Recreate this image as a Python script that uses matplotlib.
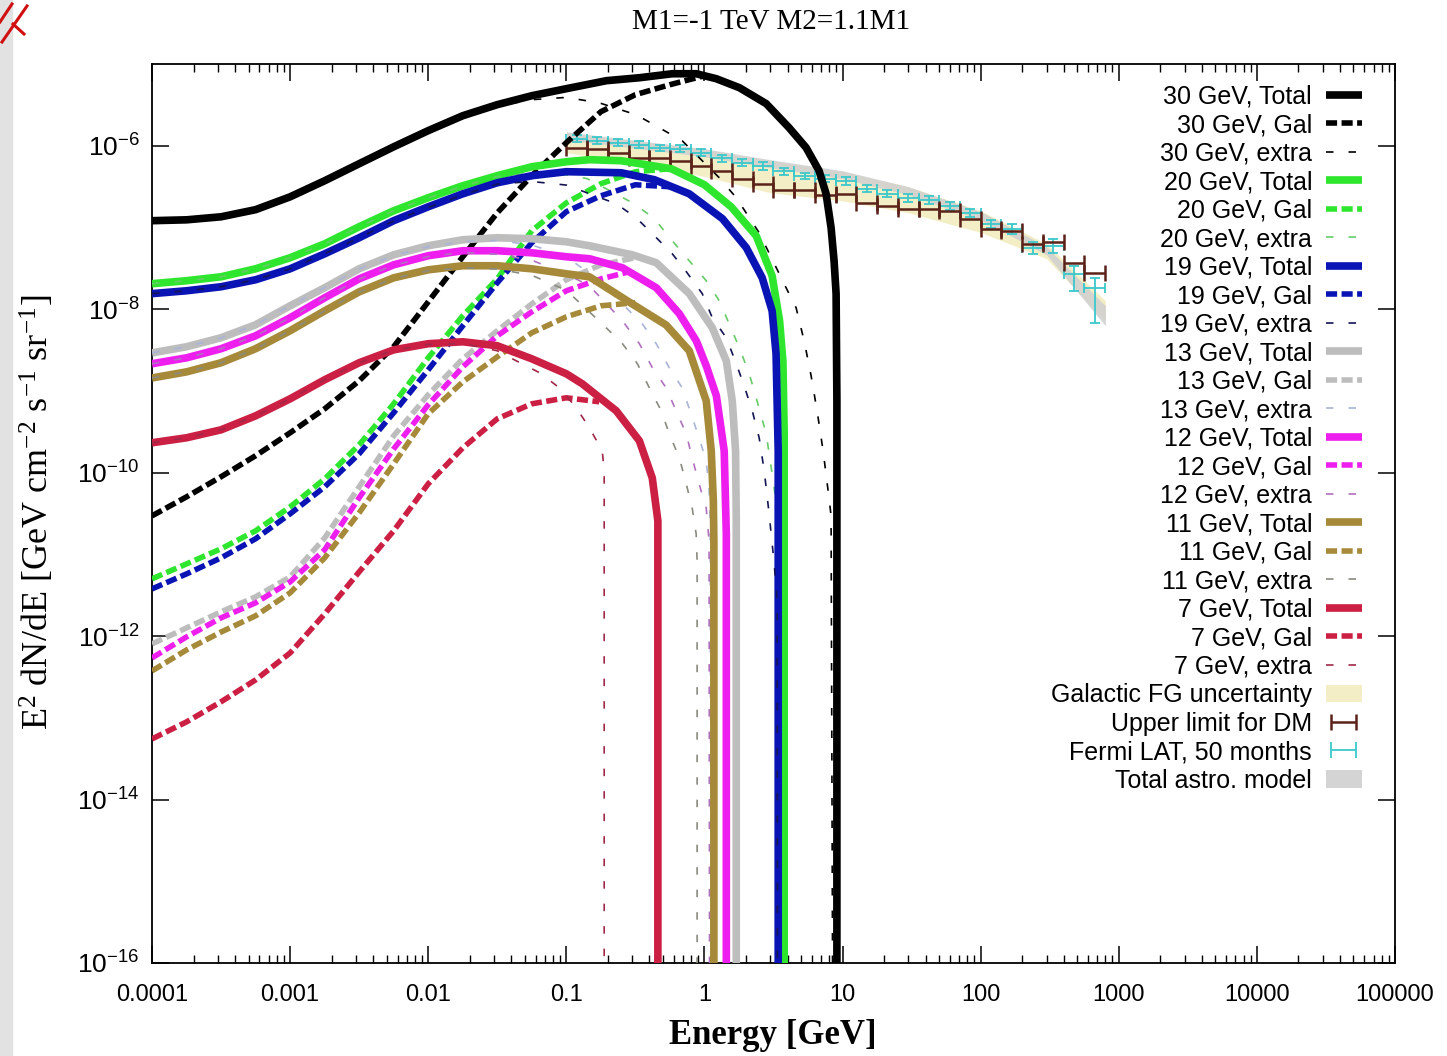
import matplotlib
matplotlib.use('Agg')
import matplotlib.pyplot as plt
from matplotlib.patches import Patch, Rectangle
from matplotlib.lines import Line2D
from matplotlib.ticker import FixedLocator, FixedFormatter, LogLocator, NullFormatter, NullLocator
import numpy as np

plt.rcParams['font.family'] = ['Liberation Sans', 'DejaVu Sans']
plt.rcParams['mathtext.fontset'] = 'custom'
plt.rcParams['mathtext.rm'] = 'Liberation Serif'
plt.rcParams['mathtext.sf'] = 'Liberation Sans'
plt.rcParams['mathtext.it'] = 'Liberation Serif:italic'

BOT = 1e-17  # vertical drop below the axis floor

# ---------------- model curves: (energy [GeV], E^2 dN/dE) ----------------
# 30 GeV
e30_tot = [1e-4, 1.78e-4, 3.16e-4, 5.62e-4, 1e-3, 1.78e-3, 3.16e-3, 5.62e-3, 0.01, 0.0178, 0.0316, 0.0562, 0.1,
           0.195, 0.338, 0.585, 0.873, 1.22, 1.79, 2.80, 4.10, 5.44, 6.76, 7.60, 8.26, 8.68, 8.98, 9.1, 9.1]
f30_tot = [1.21e-7, 1.24e-7, 1.35e-7, 1.65e-7, 2.37e-7, 3.73e-7, 6.02e-7, 9.7e-7, 1.53e-6, 2.33e-6, 3.18e-6, 4.09e-6, 4.99e-6,
           6.25e-6, 6.79e-6, 7.6e-6, 7.6e-6, 6.6e-6, 5.13e-6, 3.27e-6, 1.66e-6, 9.5e-7, 4.94e-7, 2.58e-7, 9.9e-8, 3.91e-8, 1.55e-8, 7.6e-10, BOT]
e30_gal = [1e-4, 1.78e-4, 3.16e-4, 5.62e-4, 1e-3, 1.78e-3, 3.16e-3, 5.62e-3, 0.01, 0.0178, 0.0316, 0.0562, 0.1,
           0.178, 0.316, 0.562, 1.0]
f30_gal = [2.96e-11, 5.06e-11, 8.9e-11, 1.61e-10, 3.07e-10, 6.04e-10, 1.33e-9, 3.47e-9, 1.23e-8, 4.38e-8, 1.51e-7, 4.3e-7, 1.09e-6,
           2.61e-6, 4.21e-6, 5.58e-6, 7.19e-6]
e30_ext = [1e-4, 1.78e-4, 3.16e-4, 5.62e-4, 1e-3, 1.78e-3, 3.16e-3, 5.62e-3, 0.01, 0.0178, 0.0316, 0.0562, 0.1,
           0.173, 0.321, 0.471, 0.690, 0.964, 1.28, 1.70, 2.49, 3.90, 4.61, 5.27, 5.92, 6.54, 7.23, 7.86, 8.26, 8.5]
f30_ext = [1.21e-7, 1.24e-7, 1.35e-7, 1.65e-7, 2.37e-7, 3.73e-7, 6.02e-7, 9.7e-7, 1.52e-6, 2.3e-6, 3.05e-6, 3.66e-6, 3.9e-6,
           3.35e-6, 2.39e-6, 1.66e-6, 1.15e-6, 6.55e-7, 4.06e-7, 2.31e-7, 8.6e-8, 1.83e-8, 1.04e-8, 4.1e-9, 1.53e-9, 5.7e-10, 1.85e-10, 6.0e-11, 2.96e-11, BOT]

# 20 GeV
e20_tot = [1e-4, 1.78e-4, 3.16e-4, 5.62e-4, 1e-3, 1.78e-3, 3.16e-3, 5.62e-3, 0.01, 0.0178, 0.0316, 0.0562, 0.1,
           0.147, 0.250, 0.575, 1.0, 1.56, 2.37, 3.09, 3.5, 3.7, 3.78, 3.78]
f20_tot = [2.05e-8, 2.23e-8, 2.49e-8, 3.12e-8, 4.26e-8, 6.31e-8, 1.02e-7, 1.6e-7, 2.31e-7, 3.24e-7, 4.3e-7, 5.53e-7, 6.37e-7,
           6.75e-7, 6.55e-7, 5.23e-7, 3.33e-7, 1.79e-7, 7.9e-8, 2.56e-8, 7.2e-9, 2.3e-9, 3e-10, BOT]
e20_gal = [1e-4, 1.78e-4, 3.16e-4, 5.62e-4, 1e-3, 1.78e-3, 3.16e-3, 5.62e-3, 0.01, 0.0178, 0.0316, 0.0562, 0.1,
           0.178, 0.316, 0.562]
f20_gal = [5.02e-12, 7.65e-12, 1.17e-11, 1.94e-11, 3.81e-11, 8.4e-11, 2.19e-10, 6.95e-10, 2.54e-9, 8.3e-9, 2.35e-8, 9.12e-8, 2.0e-7,
           3.43e-7, 4.81e-7, 5.23e-7]
e20_ext = [1e-4, 1.78e-4, 3.16e-4, 5.62e-4, 1e-3, 1.78e-3, 3.16e-3, 5.62e-3, 0.01, 0.0178, 0.0316, 0.0562, 0.1,
           0.142, 0.310, 0.434, 0.585, 0.776, 1.03, 1.28, 1.51, 1.79, 2.11, 2.37, 2.80, 3.09, 3.30, 3.42, 3.45]
f20_ext = [2.05e-8, 2.23e-8, 2.49e-8, 3.12e-8, 4.26e-8, 6.31e-8, 1.02e-7, 1.6e-7, 2.3e-7, 3.2e-7, 4.2e-7, 4.6e-7, 4.4e-7,
           3.95e-7, 1.95e-7, 1.28e-7, 6.87e-8, 3.91e-8, 2.23e-8, 1.27e-8, 6.63e-9, 3.37e-9, 1.62e-9, 8.2e-10, 2.99e-10, 9.7e-11, 4.5e-11, 8.3e-12, BOT]

# 19 GeV
e19_tot = [1e-4, 1.78e-4, 3.16e-4, 5.62e-4, 1e-3, 1.78e-3, 3.16e-3, 5.62e-3, 0.01, 0.0178, 0.0316, 0.0562, 0.1,
           0.250, 0.434, 0.776, 1.35, 2.01, 2.62, 3.09, 3.30, 3.42, 3.42]
f19_tot = [1.55e-8, 1.68e-8, 1.88e-8, 2.29e-8, 3.12e-8, 4.76e-8, 7.48e-8, 1.21e-7, 1.79e-7, 2.58e-7, 3.52e-7, 4.3e-7, 4.81e-7,
           4.67e-7, 3.84e-7, 2.58e-7, 1.28e-7, 5.65e-8, 2.42e-8, 9.55e-9, 2.85e-9, 1.85e-10, BOT]
e19_gal = [1e-4, 1.78e-4, 3.16e-4, 5.62e-4, 1e-3, 1.78e-3, 3.16e-3, 5.62e-3, 0.01, 0.0178, 0.0316, 0.0562, 0.1,
           0.178, 0.316, 0.562]
f19_gal = [3.78e-12, 5.77e-12, 9.06e-12, 1.55e-11, 3.13e-11, 6.7e-11, 1.7e-10, 5.4e-10, 1.81e-9, 6.27e-9, 2.1e-8, 6.5e-8, 1.56e-7,
           2.44e-7, 3.33e-7, 3.15e-7]
e19_ext = [1e-4, 1.78e-4, 3.16e-4, 5.62e-4, 1e-3, 1.78e-3, 3.16e-3, 5.62e-3, 0.01, 0.0178, 0.0316, 0.0562, 0.1,
           0.230, 0.321, 0.420, 0.585, 0.731, 0.964, 1.14, 1.44, 1.70, 1.94, 2.22, 2.49, 2.71, 2.94, 3.20, 3.36, 3.38]
f19_ext = [1.55e-8, 1.68e-8, 1.88e-8, 2.29e-8, 3.12e-8, 4.76e-8, 7.48e-8, 1.2e-7, 1.76e-7, 2.5e-7, 3.4e-7, 3.65e-7, 3.3e-7,
           1.95e-7, 1.31e-7, 8.37e-8, 4.76e-8, 2.95e-8, 1.55e-8, 7.85e-9, 4.47e-9, 2.15e-9, 1.15e-9, 5.7e-10, 2.67e-10, 1.05e-10, 3.13e-11, 7.65e-12, 2.7e-12, BOT]

# 13 GeV
e13_tot = [1e-4, 1.78e-4, 3.16e-4, 5.62e-4, 1e-3, 1.78e-3, 3.16e-3, 5.62e-3, 0.01, 0.0178, 0.0316, 0.0562, 0.1,
           0.147, 0.30, 0.448, 0.776, 1.14, 1.44, 1.59, 1.68, 1.70, 1.70]
f13_tot = [2.92e-9, 3.47e-9, 4.47e-9, 6.44e-9, 1.1e-8, 1.83e-8, 3.12e-8, 4.63e-8, 5.97e-8, 7.07e-8, 7.48e-8, 7.28e-8, 6.68e-8,
           5.97e-8, 4.63e-8, 3.70e-8, 1.55e-8, 5.92e-9, 2.33e-9, 7.56e-10, 1.85e-10, 2.6e-11, BOT]
e13_gal = [1e-4, 1.78e-4, 3.16e-4, 5.62e-4, 1e-3, 1.78e-3, 3.16e-3, 5.62e-3, 0.01, 0.0178, 0.0316, 0.0562, 0.1,
           0.178, 0.316]
f13_gal = [8.03e-13, 1.26e-12, 1.98e-12, 3.02e-12, 5.3e-12, 1.59e-11, 6.7e-11, 2.82e-10, 8.96e-10, 2.47e-9, 5.45e-9, 1.16e-8, 2.29e-8,
           3.49e-8, 4.26e-8]
e13_ext = [1e-4, 1.78e-4, 3.16e-4, 5.62e-4, 1e-3, 1.78e-3, 3.16e-3, 5.62e-3, 0.01, 0.0178, 0.0316, 0.0562, 0.1,
           0.173, 0.355, 0.448, 0.556, 0.690, 0.80, 0.914, 1.03, 1.08, 1.10, 1.12]
f13_ext = [2.92e-9, 3.47e-9, 4.47e-9, 6.44e-9, 1.1e-8, 1.83e-8, 3.1e-8, 4.55e-8, 5.8e-8, 6.7e-8, 6.95e-8, 6.1e-8, 4.4e-8,
           2.23e-8, 6.6e-9, 3.78e-9, 1.92e-9, 1.09e-9, 5.25e-10, 2.67e-10, 1.39e-10, 6.5e-11, 2.57e-11, BOT]

# 12 GeV
e12_tot = [1e-4, 1.78e-4, 3.16e-4, 5.62e-4, 1e-3, 1.78e-3, 3.16e-3, 5.62e-3, 0.01, 0.0178, 0.0316, 0.0562, 0.1,
           0.147, 0.255, 0.448, 0.658, 0.873, 1.03, 1.22, 1.39, 1.44, 1.44]
f12_tot = [2.15e-9, 2.54e-9, 3.28e-9, 4.72e-9, 7.85e-9, 1.38e-8, 2.35e-8, 3.49e-8, 4.51e-8, 5.19e-8, 5.19e-8, 4.9e-8, 4.38e-8,
           4.14e-8, 3.21e-8, 1.83e-8, 8.79e-9, 4.1e-9, 2.03e-9, 8.71e-10, 1.85e-10, 1.78e-11, BOT]
e12_gal = [1e-4, 1.78e-4, 3.16e-4, 5.62e-4, 1e-3, 1.78e-3, 3.16e-3, 5.62e-3, 0.01, 0.0178, 0.0316, 0.0562, 0.1,
           0.178, 0.286]
f12_gal = [5.41e-13, 9.78e-13, 1.67e-12, 2.55e-12, 4.6e-12, 1.14e-11, 4.92e-11, 1.95e-10, 6.76e-10, 1.97e-9, 4.72e-9, 9.29e-9, 1.68e-8,
           2.35e-8, 2.87e-8]
e12_ext = [1e-4, 1.78e-4, 3.16e-4, 5.62e-4, 1e-3, 1.78e-3, 3.16e-3, 5.62e-3, 0.01, 0.0178, 0.0316, 0.0562, 0.1,
           0.147, 0.255, 0.338, 0.420, 0.528, 0.624, 0.738, 0.815, 0.914, 1.03, 1.08, 1.09]
f12_ext = [2.15e-9, 2.54e-9, 3.28e-9, 4.72e-9, 7.85e-9, 1.38e-8, 2.33e-8, 3.44e-8, 4.4e-8, 4.95e-8, 4.7e-8, 3.97e-8, 2.7e-8,
           1.93e-8, 7.2e-9, 3.78e-9, 1.92e-9, 1.09e-9, 5.7e-10, 2.99e-10, 1.52e-10, 7.3e-11, 3.71e-11, 1.46e-11, BOT]

# 11 GeV
e11_tot = [1e-4, 1.78e-4, 3.16e-4, 5.62e-4, 1e-3, 1.78e-3, 3.16e-3, 5.62e-3, 0.01, 0.0178, 0.0316, 0.0562, 0.1,
           0.147, 0.30, 0.528, 0.776, 1.03, 1.12, 1.16, 1.17, 1.17]
f11_tot = [1.44e-9, 1.71e-9, 2.21e-9, 3.28e-9, 5.45e-9, 9.55e-9, 1.63e-8, 2.42e-8, 3.03e-8, 3.4e-8, 3.4e-8, 3.12e-8, 2.71e-8,
           2.49e-8, 1.16e-8, 6.4e-9, 3.1e-9, 7.56e-10, 1.85e-10, 4.5e-11, 1.46e-11, BOT]
e11_gal = [1e-4, 1.78e-4, 3.16e-4, 5.62e-4, 1e-3, 1.78e-3, 3.16e-3, 5.62e-3, 0.01, 0.0178, 0.0316, 0.0562, 0.1,
           0.178, 0.316]
f11_gal = [3.75e-13, 6.78e-13, 1.12e-12, 1.77e-12, 3.38e-12, 9.06e-12, 3.22e-11, 1.28e-10, 5.25e-10, 1.29e-9, 2.61e-9, 5.14e-9, 8.07e-9,
           1.1e-8, 1.2e-8]
e11_ext = [1e-4, 1.78e-4, 3.16e-4, 5.62e-4, 1e-3, 1.78e-3, 3.16e-3, 5.62e-3, 0.01, 0.0178, 0.0316, 0.0562, 0.1,
           0.182, 0.255, 0.327, 0.399, 0.487, 0.556, 0.658, 0.738, 0.815, 0.871, 0.885, 0.885]
f11_ext = [1.44e-9, 1.71e-9, 2.21e-9, 3.28e-9, 5.45e-9, 9.55e-9, 1.62e-8, 2.38e-8, 2.95e-8, 3.2e-8, 3.1e-8, 2.6e-8, 1.7e-8,
           6.6e-9, 3.78e-9, 2.15e-9, 1.09e-9, 5.7e-10, 2.99e-10, 1.52e-10, 7.3e-11, 3.71e-11, 1.78e-11, 8.3e-12, BOT]

# 7 GeV
e7_tot = [1e-4, 1.78e-4, 3.16e-4, 5.62e-4, 1e-3, 1.78e-3, 3.16e-3, 5.62e-3, 0.01, 0.0178, 0.0316, 0.0562, 0.1,
          0.1306, 0.230, 0.338, 0.419, 0.46, 0.46]
f7_tot = [2.32e-10, 2.67e-10, 3.34e-10, 4.95e-10, 8.0e-10, 1.37e-9, 2.21e-9, 3.18e-9, 3.78e-9, 3.99e-9, 3.57e-9, 2.47e-9, 1.62e-9,
          1.22e-9, 5.7e-10, 2.45e-10, 8.6e-11, 2.57e-11, BOT]
e7_gal = [1e-4, 1.78e-4, 3.16e-4, 5.62e-4, 1e-3, 1.78e-3, 3.16e-3, 5.62e-3, 0.01, 0.0178, 0.0316, 0.0562, 0.1, 0.173]
f7_gal = [5.52e-14, 8.92e-14, 1.57e-13, 2.91e-13, 6.22e-13, 1.87e-12, 6.1e-12, 1.94e-11, 7.3e-11, 2.01e-10, 4.56e-10, 6.95e-10, 8.24e-10, 7.36e-10]
e7_ext = [1e-4, 1.78e-4, 3.16e-4, 5.62e-4, 1e-3, 1.78e-3, 3.16e-3, 5.62e-3, 0.01, 0.0178, 0.0316, 0.0435, 0.064,
          0.0891, 0.118, 0.147, 0.182, 0.188, 0.188]
f7_ext = [2.32e-10, 2.67e-10, 3.34e-10, 4.95e-10, 8.0e-10, 1.37e-9, 2.21e-9, 3.15e-9, 3.7e-9, 3.8e-9, 3.1e-9, 2.33e-9, 1.67e-9,
          1.09e-9, 6.21e-10, 3.53e-10, 1.85e-10, 1.05e-10, BOT]

masses = ['30', '20', '19', '13', '12', '11', '7']
tot_colors = ['#000000', '#2ee62e', '#0a14b4', '#bdbdbd', '#ee1fee', '#a68a3a', '#cc1f44']
ext_colors = ['#000000', '#66cc66', '#141455', '#aab4d8', '#b070c0', '#8a8a80', '#a02848']
curves = {
    '30': (e30_tot, f30_tot, e30_gal, f30_gal, e30_ext, f30_ext),
    '20': (e20_tot, f20_tot, e20_gal, f20_gal, e20_ext, f20_ext),
    '19': (e19_tot, f19_tot, e19_gal, f19_gal, e19_ext, f19_ext),
    '13': (e13_tot, f13_tot, e13_gal, f13_gal, e13_ext, f13_ext),
    '12': (e12_tot, f12_tot, e12_gal, f12_gal, e12_ext, f12_ext),
    '11': (e11_tot, f11_tot, e11_gal, f11_gal, e11_ext, f11_ext),
    '7': (e7_tot, f7_tot, e7_gal, f7_gal, e7_ext, f7_ext),
}

# ---------------- Fermi-LAT data, upper limits, bands ----------------
bin_edges = [0.1, 0.141, 0.2, 0.282, 0.398, 0.562, 0.794, 1.12, 1.58, 2.24, 3.16, 4.47, 6.31, 8.91,
             12.6, 17.8, 25.1, 35.5, 50.1, 70.8, 100, 141, 200, 282, 398, 562, 794]
fermi = [1.22e-6, 1.15e-6, 1.09e-6, 1.03e-6, 9.4e-7, 9.2e-7, 8.2e-7, 7.1e-7, 6.2e-7, 5.7e-7, 4.9e-7, 4.3e-7, 3.95e-7,
         3.7e-7, 2.98e-7, 2.6e-7, 2.3e-7, 2.18e-7, 1.85e-7, 1.51e-7, 1.11e-7, 9.6e-8, 5.6e-8, 6.0e-8, 2.7e-8, 1.83e-8]
fermi_hi = [1.34e-6, 1.27e-6, 1.2e-6, 1.13e-6, 1.03e-6, 1.01e-6, 9.0e-7, 7.8e-7, 6.8e-7, 6.3e-7, 5.4e-7, 4.7e-7, 4.35e-7,
            4.1e-7, 3.3e-7, 2.9e-7, 2.55e-7, 2.42e-7, 2.05e-7, 1.7e-7, 1.25e-7, 1.1e-7, 6.6e-8, 7.2e-8, 3.4e-8, 2.42e-8]
fermi_lo = [1.1e-6, 1.04e-6, 0.98e-6, 0.93e-6, 8.5e-7, 8.3e-7, 7.4e-7, 6.4e-7, 5.6e-7, 5.1e-7, 4.4e-7, 3.9e-7, 3.55e-7,
            3.3e-7, 2.68e-7, 2.33e-7, 2.06e-7, 1.94e-7, 1.65e-7, 1.34e-7, 9.8e-8, 8.4e-8, 4.7e-8, 4.9e-8, 1.68e-8, 6.8e-9]
upper_limit = [9.4e-7, 9.2e-7, 8.2e-7, 7.1e-7, 7.1e-7, 6.5e-7, 5.7e-7, 4.9e-7, 3.95e-7, 3.4e-7, 2.9e-7, 2.9e-7, 2.5e-7,
               2.6e-7, 2.0e-7, 1.85e-7, 1.69e-7, 1.69e-7, 1.6e-7, 1.28e-7, 9.6e-8, 9.1e-8, 6.3e-8, 6.7e-8, 3.7e-8, 2.8e-8]

band_e = [0.1, 0.3, 1, 3, 10, 30, 100, 300, 800]
fg_hi = [1.44e-6, 1.15e-6, 8.9e-7, 6.5e-7, 4.8e-7, 3.15e-7, 1.6e-7, 6.3e-8, 1.27e-8]
fg_lo = [8.2e-7, 6.2e-7, 4.2e-7, 2.66e-7, 2.12e-7, 1.51e-7, 8.7e-8, 4.15e-8, 7.2e-9]
astro_hi = [1.48e-6, 1.18e-6, 9.2e-7, 6.75e-7, 4.94e-7, 3.15e-7, 1.56e-7, 5.81e-8, 1.10e-8]
astro_lo = [1.18e-6, 9.45e-7, 7.33e-7, 5.38e-7, 3.95e-7, 2.51e-7, 1.24e-7, 4.63e-8, 6.27e-9]

xtick_vals = [1e-4, 1e-3, 1e-2, 1e-1, 1, 10, 100, 1000, 1e4, 1e5]
xtick_labels = ['0.0001', '0.001', '0.01', '0.1', '1', '10', '100', '1000', '10000', '100000']
ytick_vals = [1e-16, 1e-14, 1e-12, 1e-10, 1e-8, 1e-6]
ytick_labels = [r'$\mathsf{10^{-16}}$', r'$\mathsf{10^{-14}}$', r'$\mathsf{10^{-12}}$',
                r'$\mathsf{10^{-10}}$', r'$\mathsf{10^{-8}}$', r'$\mathsf{10^{-6}}$']

# ---------------- figure ----------------
W, H = 1447, 1056
fig = plt.figure(figsize=(W / 100, H / 100), dpi=100)
fig.patches.append(Rectangle((0, 0), 12 / W, 1, transform=fig.transFigure, color='#e2e2e2', zorder=0))
for (x0, y0, x1, y1) in [(2, 42, 27, 6), (0, 22, 12, 4), (13, 24, 24, 34)]:
    fig.add_artist(Line2D([x0 / W, x1 / W], [1 - y0 / H, 1 - y1 / H], color='#d01010', lw=2.2))

ax = fig.add_axes([152 / W, 1 - 963 / H, (1395 - 152) / W, (963 - 64) / H])
ax.set_xscale('log')
ax.set_yscale('log')

# bands
ax.fill_between(band_e, fg_lo, fg_hi, color='#f3eec6', lw=0, zorder=1)
ax.fill_between(band_e, astro_lo, astro_hi, color='#cfcfcf', alpha=0.85, lw=0, zorder=1.5)

edges = np.array(bin_edges)
lo_e, hi_e = edges[:-1], edges[1:]
cen = np.sqrt(lo_e * hi_e)
xerr = [cen - lo_e, hi_e - cen]
fv = np.array(fermi)
ax.errorbar(cen, fv, xerr=xerr, yerr=[fv - np.array(fermi_lo), np.array(fermi_hi) - fv], fmt='none',
            ecolor='#3cc8cc', elinewidth=1.3, capsize=3.8, capthick=1.3, zorder=3)
ul = ax.errorbar(cen, upper_limit, xerr=xerr, fmt='none', ecolor='#5a2218', elinewidth=1.8,
                 capsize=5.5, capthick=1.8, zorder=3.5)
# legend proxy for Fermi (horizontal bar only), placed outside the view
fermi_proxy = ax.errorbar([1e-9], [1e-20], xerr=[[5e-10], [5e-10]], fmt='none', ecolor='#3cc8cc',
                          elinewidth=1.3, capsize=5.5, capthick=1.3)

handles, labels = [], []
z = 5
for m, ct, ce in zip(masses, tot_colors, ext_colors):
    et, ft, eg, fg, ee, fe = curves[m]
    h1, = ax.plot(et, ft, color=ct, lw=5.5, solid_capstyle='butt', solid_joinstyle='round', zorder=z)
    h2, = ax.plot(eg, fg, color=ct, lw=4.0, linestyle=(0, (2.0, 0.8)), dash_capstyle='butt', zorder=z + 0.1)
    h3, = ax.plot(ee, fe, color=ce, lw=1.2, linestyle=(0, (4.5, 9)), zorder=z + 0.2)
    handles += [h1, h2, h3]
    labels += [f'{m} GeV, Total', f'{m} GeV, Gal', f'{m} GeV, extra']
    z += 1

handles += [Patch(facecolor='#f3eec6', edgecolor='none'), ul, fermi_proxy,
            Patch(facecolor='#d4d4d4', edgecolor='none')]
labels += ['Galactic FG uncertainty', 'Upper limit for DM', 'Fermi LAT, 50 months', 'Total astro. model']

ax.set_xlim(1e-4, 1e5)
ax.set_ylim(1e-16, 1e-5)

ax.xaxis.set_major_locator(FixedLocator(xtick_vals))
ax.xaxis.set_major_formatter(FixedFormatter(xtick_labels))
ax.xaxis.set_minor_locator(LogLocator(base=10, subs=(2, 3, 4, 5, 6, 7, 8, 9), numticks=20))
ax.xaxis.set_minor_formatter(NullFormatter())
ax.yaxis.set_major_locator(FixedLocator(ytick_vals))
ax.yaxis.set_major_formatter(FixedFormatter(ytick_labels))
ax.yaxis.set_minor_locator(NullLocator())

ax.tick_params(which='major', direction='in', length=12, width=1.1, top=True, right=True, colors='black')
ax.tick_params(axis='x', which='major', pad=15, labelsize=17)
ax.tick_params(axis='y', which='major', pad=9, labelsize=19)
ax.tick_params(which='minor', direction='in', length=6, width=1.0, top=True, right=True)
for s in ax.spines.values():
    s.set_linewidth(1.3)

leg = ax.legend(handles, labels, loc='upper right', bbox_to_anchor=(0.9735, 0.977), frameon=False,
                markerfirst=False, fontsize=18, handlelength=1.45, handletextpad=0.55,
                labelspacing=0.18, borderpad=0, borderaxespad=0)
leg.set_zorder(20)

fig.text(771 / W, 1 - 22 / H, 'M1=-1 TeV M2=1.1M1', ha='center', va='center',
         fontsize=21, family='Liberation Serif')
fig.text(773 / W, 1 - 1035 / H, 'Energy [GeV]', ha='center', va='center',
         fontsize=25, family='Liberation Serif', fontweight='bold')
fig.text(38 / W, 1 - 512 / H, r'E$^2$ dN/dE [GeV cm$^{-2}$ s$^{-1}$ sr$^{-1}$]', ha='center', va='center',
         rotation=90, fontsize=26, family='Liberation Serif')

fig.savefig('out.png', dpi=100)
